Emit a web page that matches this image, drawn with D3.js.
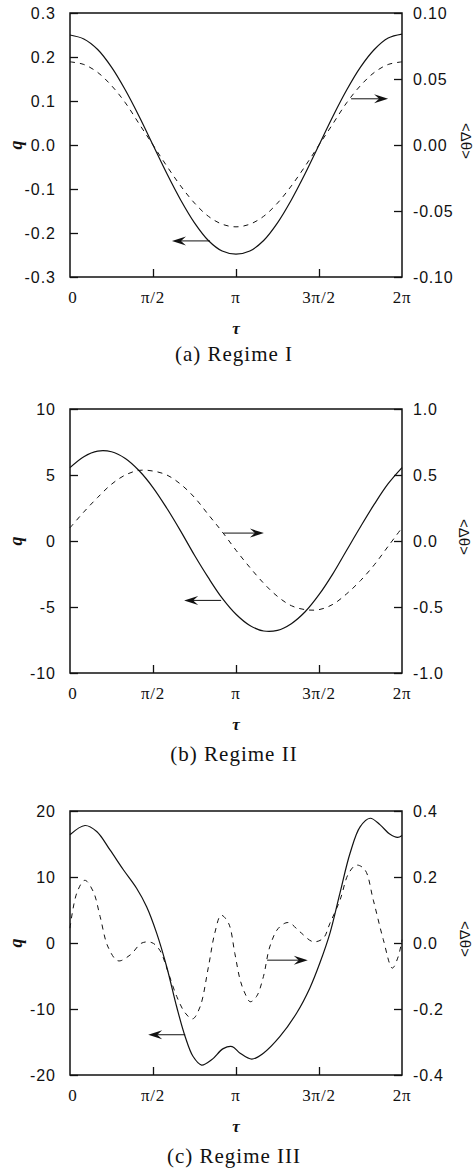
<!DOCTYPE html>
<html><head><meta charset="utf-8">
<script src="https://cdn.jsdelivr.net/npm/d3@7"></script>
<style>
html,body{margin:0;padding:0;background:#fff;}
svg{display:block;}
</style></head>
<body>
<script>
// ---------- data ----------
const tauTickValues = [0, Math.PI/2, Math.PI, 3*Math.PI/2, 2*Math.PI];
const tauTickLabels = ["0", "π/2", "π", "3π/2", "2π"];

// regime I (sampled every π/12)
const tauA = d3.range(25).map(k => k*Math.PI/12);
const qA  = [0.250,0.241,0.217,0.177,0.125,0.065,0.000,-0.065,-0.125,-0.177,-0.217,-0.241,-0.248,-0.241,-0.217,-0.177,-0.125,-0.065,0.000,0.065,0.125,0.177,0.217,0.243,0.252];
const thA = [0.063,0.061,0.055,0.045,0.032,0.016,0.000,-0.016,-0.031,-0.044,-0.054,-0.060,-0.062,-0.060,-0.054,-0.044,-0.031,-0.016,0.000,0.016,0.032,0.045,0.055,0.061,0.063];
const qTicksA  = [0.3,0.2,0.1,0.0,-0.1,-0.2,-0.3];
const thTicksA = [0.10,0.05,0.00,-0.05,-0.10];

// regime II (sampled every π/12)
const tauB = d3.range(25).map(k => k*Math.PI/12);
const qB  = [5.56,6.39,6.81,6.76,6.25,5.32,4.05,2.48,0.75,-1.08,-2.78,-4.33,-5.55,-6.40,-6.82,-6.77,-6.26,-5.36,-4.07,-2.49,-0.70,1.08,2.79,4.34,5.56];
const thB = [0.10,0.22,0.33,0.43,0.50,0.535,0.53,0.50,0.43,0.33,0.20,0.07,-0.07,-0.20,-0.32,-0.42,-0.49,-0.52,-0.52,-0.48,-0.40,-0.30,-0.18,-0.04,0.10];
const qTicksB  = [10,5,0,-5,-10];
const thTicksB = [1.0,0.5,0.0,-0.5,-1.0];

// regime III (read at irregular τ)
const tauCq = [0,0.284,0.505,0.757,1.01,1.26,1.45,1.64,1.83,2.02,2.18,2.33,2.49,2.68,2.90,3.07,3.22,3.44,3.66,3.97,4.29,4.54,4.73,4.92,5.11,5.30,5.49,5.68,5.87,6.05,6.20,6.283];
const qC    = [16.4,17.8,16.9,14.1,11.1,8.3,5.5,1.5,-3.6,-9.7,-14.2,-17.2,-18.5,-17.7,-16.0,-15.7,-16.7,-17.6,-16.7,-14.2,-10.6,-6.8,-3.0,1.5,7.6,13.6,17.6,18.9,17.9,16.5,16.0,16.3];
const tauCt = [0,0.13,0.28,0.44,0.57,0.72,0.91,1.14,1.36,1.55,1.70,1.86,2.02,2.18,2.32,2.46,2.62,2.74,2.86,3.00,3.12,3.22,3.31,3.41,3.53,3.66,3.78,3.94,4.13,4.35,4.60,4.79,4.92,5.11,5.27,5.42,5.58,5.74,5.93,6.10,6.21,6.283];
const thC   = [0.045,0.152,0.19,0.156,0.08,-0.012,-0.054,-0.036,0.0,0.001,-0.022,-0.09,-0.162,-0.212,-0.23,-0.194,-0.072,0.03,0.084,0.06,-0.032,-0.112,-0.152,-0.178,-0.162,-0.102,-0.012,0.044,0.062,0.034,0.004,0.014,0.06,0.13,0.21,0.236,0.222,0.13,0.01,-0.076,-0.042,0.01];
const qTicksC  = [20,10,0,-10,-20];
const thTicksC = [0.4,0.2,0.0,-0.2,-0.4];

// annotation arrows: [tauTail, tauHead, value, axis]
const arrowsA = [[2.65,1.93,-0.218,"q"],[5.32,6.02,0.035,"th"]];
const arrowsB = [[2.86,2.16,-4.5,"q"],[2.91,3.67,0.06,"th"]];
const arrowsC = [[2.18,1.48,-13.9,"q"],[3.73,4.50,-0.052,"th"]];

const captions = ["(a)  Regime I", "(b)  Regime II", "(c)  Regime III"];

// ---------- layout ----------
const W = 475, H = 1168;
const svg = d3.select("body").append("svg").attr("width", W).attr("height", H);

const panels = [
  {top:13,  tq:tauA, q:qA, tt:tauA, th:thA, qDom:[-0.3,0.3], thDom:[-0.1,0.1], qT:qTicksA, thT:thTicksA, qFmt:d3.format(".1f"), thFmt:d3.format(".2f"), arrows:arrowsA, cap:captions[0], capDy:76, thLabelX:466},
  {top:409, tq:tauB, q:qB, tt:tauB, th:thB, qDom:[-10,10], thDom:[-1,1], qT:qTicksB, thT:thTicksB, qFmt:d3.format("d"), thFmt:d3.format(".1f"), arrows:arrowsB, cap:captions[1], capDy:80, thLabelX:464},
  {top:811, tq:tauCq, q:qC, tt:tauCt, th:thC, qDom:[-20,20], thDom:[-0.4,0.4], qT:qTicksC, thT:thTicksC, qFmt:d3.format("d"), thFmt:d3.format(".1f"), arrows:arrowsC, cap:captions[2], capDy:80, thLabelX:465}
];

const left = 70, right = 402, ph = 264;
const x = d3.scaleLinear().domain([0, 2*Math.PI]).range([left, right]);
const minus = s => s.replace("−","-");

panels.forEach(p => {
  const g = svg.append("g");
  const yq = d3.scaleLinear().domain(p.qDom).range([p.top+ph, p.top]);
  const yt = d3.scaleLinear().domain(p.thDom).range([p.top+ph, p.top]);

  // curves
  const lineQ = d3.line().x((d,i)=>x(p.tq[i])).y(d=>yq(d)).curve(d3.curveCatmullRom.alpha(0.5));
  const lineT = d3.line().x((d,i)=>x(p.tt[i])).y(d=>yt(d)).curve(d3.curveCatmullRom.alpha(0.5));
  g.append("path").attr("d", lineQ(p.q)).attr("fill","none").attr("stroke","#111").attr("stroke-width",1.2);
  g.append("path").attr("d", lineT(p.th)).attr("fill","none").attr("stroke","#111").attr("stroke-width",1).attr("stroke-dasharray","5,5");

  // frame
  g.append("rect").attr("x",left).attr("y",p.top).attr("width",right-left).attr("height",ph)
    .attr("fill","none").attr("stroke","#111").attr("stroke-width",1.5);

  const tickFont = "Liberation Sans, Arial, sans-serif";

  // left axis
  const ax = d3.axisRight(yq).tickValues(p.qT).tickSize(8).tickFormat("");
  g.append("g").attr("transform",`translate(${left},0)`).call(ax)
    .call(s=>s.select(".domain").remove())
    .call(s=>s.selectAll("line").attr("stroke","#111").attr("stroke-width",1.3));
  g.selectAll(".ql").data(p.qT).enter().append("text")
    .attr("x",56).attr("y",d=>yq(d)).attr("dy","0.36em").attr("text-anchor","end")
    .attr("font-family",tickFont).attr("font-size",16).attr("letter-spacing",1)
    .attr("fill","#111").text(d=>minus(p.qFmt(d)));

  // right axis
  const axr = d3.axisLeft(yt).tickValues(p.thT).tickSize(8).tickFormat("");
  g.append("g").attr("transform",`translate(${right},0)`).call(axr)
    .call(s=>s.select(".domain").remove())
    .call(s=>s.selectAll("line").attr("stroke","#111").attr("stroke-width",1.3));
  g.selectAll(".tl").data(p.thT).enter().append("text")
    .attr("x",413).attr("y",d=>yt(d)).attr("dy","0.36em").attr("text-anchor","start")
    .attr("font-family",tickFont).attr("font-size",16).attr("letter-spacing",0.8)
    .attr("fill","#111").text(d=>minus(p.thFmt(d)));

  // bottom axis (ticks inside)
  const axb = d3.axisTop(x).tickValues(tauTickValues.slice(1,4)).tickSize(8).tickFormat("");
  g.append("g").attr("transform",`translate(0,${p.top+ph})`).call(axb)
    .call(s=>s.select(".domain").remove())
    .call(s=>s.selectAll("line").attr("stroke","#111").attr("stroke-width",1.3));
  g.selectAll(".xl").data(tauTickValues).enter().append("text")
    .attr("x",(d,i)=> i===0 ? x(d)+3 : x(d)).attr("y",p.top+ph+20).attr("dy","0.36em").attr("text-anchor","middle")
    .attr("font-family","Liberation Serif, Times New Roman, serif").attr("font-size",17).attr("letter-spacing",0.8)
    .attr("fill","#111").text((d,i)=>tauTickLabels[i]);

  // axis titles
  g.append("text").attr("x",(left+right)/2).attr("y",p.top+ph+51).attr("dy","0.36em").attr("text-anchor","middle")
    .attr("font-family","Liberation Serif, serif").attr("font-style","italic").attr("font-weight","bold").attr("font-size",17)
    .attr("fill","#111").text("τ");
  g.append("text").attr("transform",`translate(17,${p.top+ph/2}) rotate(-90)`).attr("dy","0.3em").attr("text-anchor","middle")
    .attr("font-family","Liberation Serif, serif").attr("font-style","italic").attr("font-weight","bold").attr("font-size",18)
    .attr("fill","#111").text("q");
  g.append("text").attr("transform",`translate(${p.thLabelX},${p.top+ph/2-4}) rotate(90)`).attr("dy","0.36em").attr("text-anchor","middle")
    .attr("font-family",tickFont).attr("font-size",15)
    .attr("fill","#111").text("<Δθ>");

  // caption
  g.append("text").attr("x",(left+right)/2 - 2).attr("y",p.top+ph+p.capDy).attr("dy","0.36em").attr("text-anchor","middle")
    .attr("font-family","Liberation Serif, Times New Roman, serif").attr("font-size",21).attr("letter-spacing",1)
    .attr("fill","#111").text(p.cap);

  // arrows
  p.arrows.forEach(a => {
    const ys = a[3]==="q" ? yq : yt;
    const x1 = x(a[0]), x2 = x(a[1]), yy = ys(a[2]);
    const dir = x2 > x1 ? 1 : -1;
    g.append("line").attr("x1",x1).attr("y1",yy).attr("x2",x2 - dir*8).attr("y2",yy)
      .attr("stroke","#111").attr("stroke-width",1);
    const L = 14, hw = 4.5, notch = 9;
    g.append("path")
      .attr("d",`M${x2},${yy} L${x2-dir*L},${yy-hw} L${x2-dir*notch},${yy} L${x2-dir*L},${yy+hw} Z`)
      .attr("fill","#111");
  });
});
</script>
</body></html>
